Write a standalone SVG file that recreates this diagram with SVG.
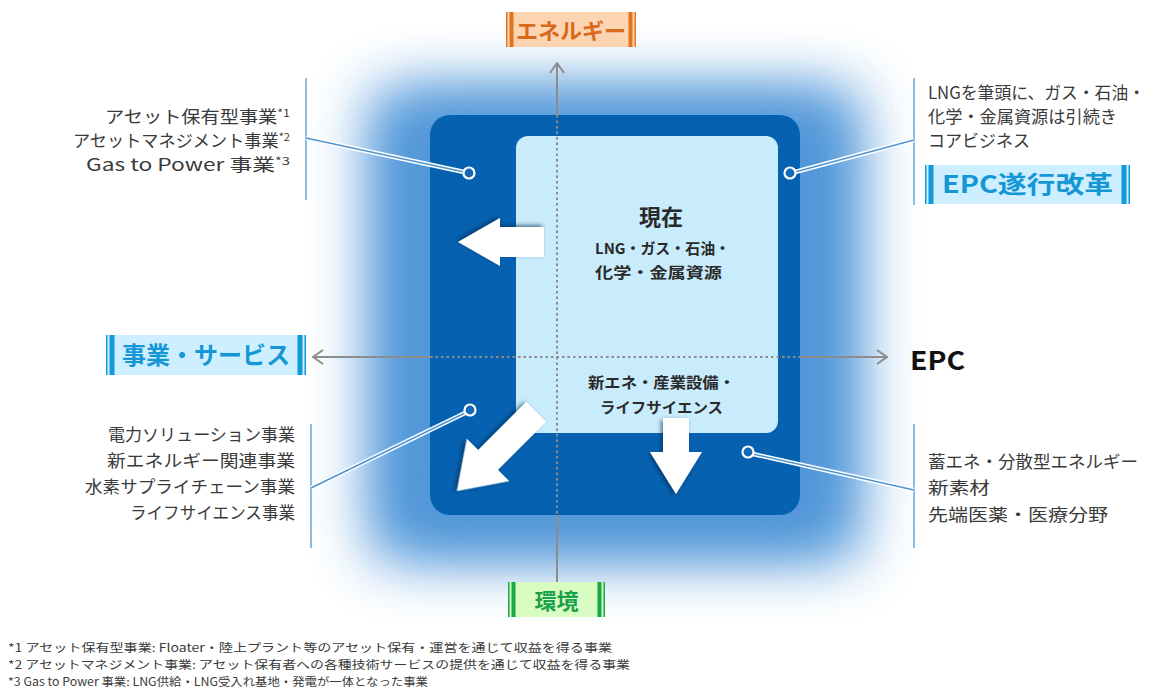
<svg xmlns="http://www.w3.org/2000/svg" width="1160" height="700" viewBox="0 0 1160 700">
<defs>
<style>
text{font-family:"Noto Sans CJK JP","Liberation Sans",sans-serif}
.t{font-size:17px;fill:#3a3a3a}
.fn{font-size:11.5px;fill:#3a3a3a}
.ctr{font-weight:bold;fill:#2a2a2a}
.ax{stroke:#8c8c8c;stroke-width:2;fill:none}
.dot{stroke:#8c8c8c;stroke-width:2;stroke-dasharray:2.5 3;fill:none}
.vl{stroke:#6aa6da;stroke-width:1.5}
.cw{stroke:#ffffff;stroke-width:4.5;fill:none}
.cb{stroke:#4f95d2;stroke-width:1.6;fill:none}
.ring{fill:#1469b6;stroke:#ffffff;stroke-width:2.2}
.arr{fill:#ffffff;filter:url(#sh)}
.lbl{font-weight:bold;text-anchor:middle}
</style>
<filter id="glow" x="-40%" y="-40%" width="180%" height="180%">
<feGaussianBlur stdDeviation="30"/>
</filter>
<filter id="sh" x="-30%" y="-30%" width="160%" height="160%">
<feDropShadow dx="2" dy="2" stdDeviation="2" flood-color="#00264d" flood-opacity="0.6"/>
</filter>
<marker id="ah" viewBox="0 0 12 16" refX="11" refY="8" markerWidth="12" markerHeight="16" markerUnits="userSpaceOnUse" orient="auto">
<path d="M1,1 L11,8 L1,15" fill="none" stroke="#8c8c8c" stroke-width="2"/>
</marker>
</defs>
<rect width="1160" height="700" fill="#ffffff"/>

<!-- glow -->
<g opacity="0.88">
<rect x="372" y="92" width="486" height="466" fill="#2f83d2" filter="url(#glow)"/>
<rect x="395" y="100" width="440" height="440" rx="30" fill="#3d8ad4" filter="url(#glow)" opacity="0.8"/>
</g>

<!-- main box -->
<g id="outer-box">
<rect x="430" y="115" width="370" height="400" rx="20" fill="#0662b0"/>
</g>
<g id="inner-box">
<rect x="516" y="136" width="262" height="297" rx="12" fill="#c9ecfc"/>
</g>

<!-- axes -->
<g id="connectors">
<line class="ax" x1="557" y1="115" x2="557" y2="63" marker-end="url(#ah)"/>
<line class="dot" x1="557" y1="115" x2="557" y2="515"/>
<line class="ax" x1="557" y1="515" x2="557" y2="606" marker-end="url(#ah)"/>
<line class="ax" x1="430" y1="357" x2="313" y2="357" marker-end="url(#ah)"/>
<line class="dot" x1="430" y1="357" x2="800" y2="357"/>
<line class="ax" x1="800" y1="357" x2="887" y2="357" marker-end="url(#ah)"/>

<!-- callout lines -->
<line class="vl" x1="306" y1="78" x2="306" y2="200"/>
<line class="vl" x1="914" y1="78" x2="914" y2="205"/>
<line class="vl" x1="311" y1="424" x2="311" y2="548"/>
<line class="vl" x1="914" y1="424" x2="914" y2="548"/>

<line class="cw" x1="306" y1="138" x2="464" y2="172"/>
<line class="cb" x1="306" y1="138" x2="464" y2="172"/>
<line class="cw" x1="914" y1="140" x2="795" y2="172"/>
<line class="cb" x1="914" y1="140" x2="795" y2="172"/>
<line class="cw" x1="311" y1="488" x2="465" y2="413"/>
<line class="cb" x1="311" y1="488" x2="465" y2="413"/>
<line class="cw" x1="914" y1="490" x2="753" y2="454"/>
<line class="cb" x1="914" y1="490" x2="753" y2="454"/>
<circle class="ring" cx="469" cy="173" r="5.5"/>
<circle class="ring" cx="790" cy="173" r="5.5"/>
<circle class="ring" cx="470" cy="410" r="5.5"/>
<circle class="ring" cx="748" cy="452" r="5.5"/>
</g>

<!-- white arrows -->
<g id="arrows">
<polygon class="arr" transform="translate(458,242) rotate(180)" points="0,0 -42,-24 -42,-15 -86,-15 -86,15 -42,15 -42,24"/>
<polygon class="arr" transform="translate(457,491) rotate(135)" points="0,0 -44,-30 -44,-14 -112,-14 -112,14 -44,14 -44,30"/>
<polygon class="arr" transform="translate(676,494) rotate(90)" points="0,0 -42,-26 -42,-13 -76,-13 -76,13 -42,13 -42,26"/>
</g>

<!-- center texts -->
<g id="current">
<text class="ctr" x="661" y="225" font-size="22" text-anchor="middle">現在</text>
<text class="ctr" x="595" y="254" font-size="15" textLength="135" lengthAdjust="spacingAndGlyphs">LNG・ガス・石油・</text>
<text class="ctr" x="595" y="278" font-size="15" textLength="127" lengthAdjust="spacingAndGlyphs">化学・金属資源</text>
</g>
<g id="new">
<text class="ctr" x="588" y="388" font-size="15" textLength="147" lengthAdjust="spacingAndGlyphs">新エネ・産業設備・</text>
<text class="ctr" x="600" y="413" font-size="15" textLength="123" lengthAdjust="spacingAndGlyphs">ライフサイエンス</text>
</g>

<!-- axis labels -->
<g id="label-energy">
<rect x="506" y="12" width="130" height="35" fill="#fdd4b2"/>
<rect x="506" y="12" width="1.5" height="35" fill="#e0741f"/>
<rect x="509.5" y="12" width="4" height="35" fill="#e0741f"/>
<rect x="628.5" y="12" width="4" height="35" fill="#e0741f"/>
<rect x="634.5" y="12" width="1.5" height="35" fill="#e0741f"/>
<text class="lbl" x="571" y="39" font-size="22" fill="#d96a1b">エネルギー</text>
</g>
<g id="label-env">
<rect x="508" y="582" width="97" height="35" fill="#d8fcc2"/>
<rect x="508" y="582" width="1.5" height="35" fill="#17a84a"/>
<rect x="511.5" y="582" width="4" height="35" fill="#17a84a"/>
<rect x="597.5" y="582" width="4" height="35" fill="#17a84a"/>
<rect x="603.5" y="582" width="1.5" height="35" fill="#17a84a"/>
<text class="lbl" x="556.5" y="609" font-size="22" fill="#1ba14b">環境</text>
</g>
<g id="label-service">
<rect x="106" y="335" width="200" height="40" fill="#cdefff"/>
<rect x="106" y="335" width="1.5" height="40" fill="#139ad8"/>
<rect x="109.5" y="335" width="5" height="40" fill="#139ad8"/>
<rect x="297.5" y="335" width="5" height="40" fill="#139ad8"/>
<rect x="304.5" y="335" width="1.5" height="40" fill="#139ad8"/>
<text class="lbl" x="206" y="364" font-size="24" fill="#1597d6">事業・サービス</text>
</g>
<g id="label-epc-reform">
<rect x="925" y="165" width="205" height="39" fill="#cdefff"/>
<rect x="925" y="165" width="1.5" height="39" fill="#139ad8"/>
<rect x="928.5" y="165" width="5" height="39" fill="#139ad8"/>
<rect x="1121.5" y="165" width="5" height="39" fill="#139ad8"/>
<rect x="1128.5" y="165" width="1.5" height="39" fill="#139ad8"/>
<text class="lbl" x="1027.5" y="193" font-size="24" fill="#1597d6" textLength="171" lengthAdjust="spacingAndGlyphs">EPC遂行改革</text>
</g>
<g id="label-epc">
<text x="910" y="370" font-size="26" font-weight="bold" fill="#111111" textLength="55" lengthAdjust="spacingAndGlyphs">EPC</text>
</g>

<!-- callout texts -->
<g id="callout-tl">
<text class="t" x="290" y="123" text-anchor="end" textLength="185" lengthAdjust="spacingAndGlyphs">アセット保有型事業<tspan font-size="11" dy="-6">*1</tspan></text>
<text class="t" x="290" y="147" text-anchor="end" textLength="217" lengthAdjust="spacingAndGlyphs">アセットマネジメント事業<tspan font-size="11" dy="-6">*2</tspan></text>
<text class="t" x="290" y="171" text-anchor="end" textLength="204" lengthAdjust="spacingAndGlyphs">Gas to Power 事業<tspan font-size="11" dy="-6">*3</tspan></text>
</g>
<g id="callout-tr">
<text class="t" x="928" y="99" textLength="217" lengthAdjust="spacingAndGlyphs">LNGを筆頭に、ガス・石油・</text>
<text class="t" x="928" y="123" textLength="189" lengthAdjust="spacingAndGlyphs">化学・金属資源は引続き</text>
<text class="t" x="928" y="147" textLength="102" lengthAdjust="spacingAndGlyphs">コアビジネス</text>
</g>
<g id="callout-bl">
<text class="t" x="295" y="441" text-anchor="end" textLength="187" lengthAdjust="spacingAndGlyphs">電力ソリューション事業</text>
<text class="t" x="295" y="467" text-anchor="end" textLength="188" lengthAdjust="spacingAndGlyphs">新エネルギー関連事業</text>
<text class="t" x="295" y="493" text-anchor="end" textLength="210" lengthAdjust="spacingAndGlyphs">水素サプライチェーン事業</text>
<text class="t" x="295" y="519" text-anchor="end" textLength="165" lengthAdjust="spacingAndGlyphs">ライフサイエンス事業</text>
</g>
<g id="callout-br">
<text class="t" x="928" y="468" textLength="210" lengthAdjust="spacingAndGlyphs">蓄エネ・分散型エネルギー</text>
<text class="t" x="928" y="494" textLength="62" lengthAdjust="spacingAndGlyphs">新素材</text>
<text class="t" x="928" y="521" textLength="180" lengthAdjust="spacingAndGlyphs">先端医薬・医療分野</text>
</g>

<!-- footnotes -->
<g id="footnotes">
<text class="fn" x="8" y="652" textLength="604" lengthAdjust="spacingAndGlyphs">*1 アセット保有型事業: Floater・陸上プラント等のアセット保有・運営を通じて収益を得る事業</text>
<text class="fn" x="8" y="669" textLength="622" lengthAdjust="spacingAndGlyphs">*2 アセットマネジメント事業: アセット保有者への各種技術サービスの提供を通じて収益を得る事業</text>
<text class="fn" x="8" y="686" textLength="420" lengthAdjust="spacingAndGlyphs">*3 Gas to Power 事業: LNG供給・LNG受入れ基地・発電が一体となった事業</text>
</g>
</svg>
